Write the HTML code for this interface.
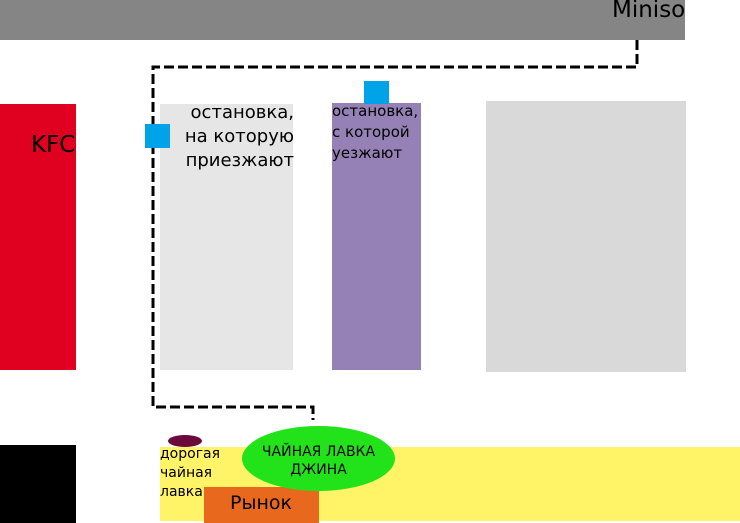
<!DOCTYPE html>
<html><head><meta charset="utf-8"><style>
body{margin:0;width:740px;height:523px;position:relative;overflow:hidden;background:#fff;font-family:"DejaVu Sans","Liberation Sans",sans-serif}
div{position:absolute}
</style></head><body>
<div style="left:0;top:0;width:685px;height:40px;background:#858585"></div>
<div style="left:612px;top:-3px;font-size:23px;color:#000">Miniso</div>
<div style="left:0;top:104px;width:76px;height:266px;background:#e0001f"></div>
<div style="left:31px;top:132px;font-size:23px;color:#000">KFC</div>
<div style="left:160px;top:104px;width:133px;height:266px;background:#e6e6e6"></div>
<div style="left:170px;top:101px;font-size:18px;line-height:24px;text-align:right;width:124px">остановка,<br>на которую<br>приезжают</div>
<div style="left:332px;top:103px;width:89px;height:267px;background:#9581b5"></div>
<div style="left:332px;top:101px;font-size:15px;line-height:21px">остановка,<br>с которой<br>уезжают</div>
<div style="left:486px;top:101px;width:200px;height:271px;background:#d9d9d9"></div>
<svg width="740" height="523" style="position:absolute;left:0;top:0">
<path d="M637,40 V67 H153 V407 H313 V420" fill="none" stroke="#000" stroke-width="3" stroke-dasharray="10,4"/>
</svg>
<div style="left:145px;top:124px;width:25px;height:24px;background:#00a2e8"></div>
<div style="left:364px;top:81px;width:25px;height:23px;background:#00a2e8"></div>
<div style="left:0;top:445px;width:76px;height:78px;background:#000"></div>
<div style="left:160px;top:447px;width:580px;height:74px;background:#fff467"></div>
<div style="left:204px;top:487px;width:115px;height:36px;background:#e8691e"></div>
<div style="left:230px;top:492px;font-size:19px">Рынок</div>
<div style="left:242px;top:426px;width:153px;height:65px;border-radius:50%;background:#22e21a"></div>
<div style="left:242px;top:443px;width:153px;text-align:center;font-size:14px;line-height:18px">ЧАЙНАЯ ЛАВКА<br>ДЖИНА</div>
<div style="left:168px;top:435px;width:34px;height:12px;border-radius:50%;background:#6b0a3a"></div>
<div style="left:160px;top:445px;font-size:14px;line-height:19px">дорогая<br>чайная<br>лавка</div>
</body></html>
